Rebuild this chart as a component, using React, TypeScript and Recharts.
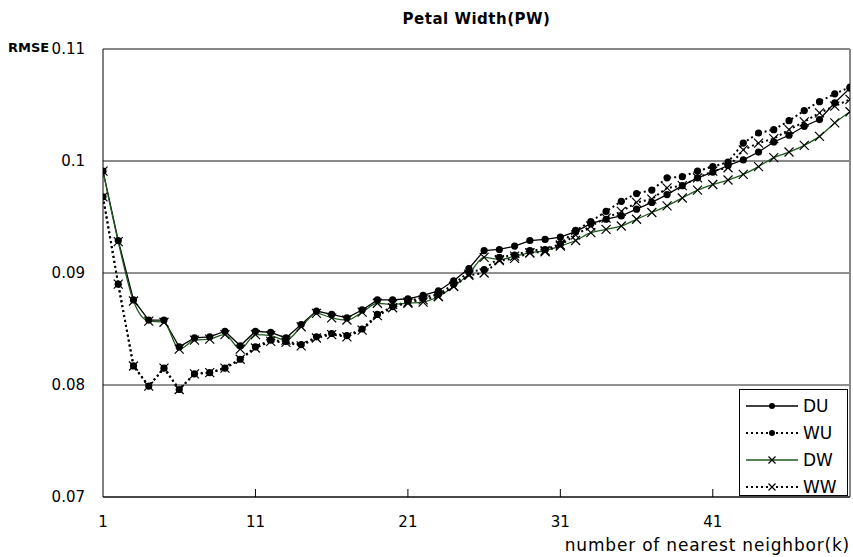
import { LineChart, Line, XAxis, YAxis, CartesianGrid, ReferenceLine } from "recharts";

const kValues = Array.from({ length: 50 }, (_, i) => i + 1);

const DU = [
  0.0991, 0.0929, 0.0876, 0.0858, 0.0858, 0.0834, 0.0842, 0.0843, 0.0848, 0.0835,
  0.0848, 0.0847, 0.0842, 0.0854, 0.0866, 0.0863, 0.086, 0.0867, 0.0876, 0.0876,
  0.0877, 0.088, 0.0884, 0.0893, 0.0904, 0.092, 0.0921, 0.0924, 0.0929, 0.093,
  0.0932, 0.0937, 0.0944, 0.0948, 0.0951, 0.0957, 0.0963, 0.097, 0.0978, 0.0985,
  0.099, 0.0996, 0.1001, 0.1008, 0.1017, 0.1023, 0.1031, 0.1037, 0.1052, 0.1065,
];
const WU = [
  0.0968, 0.089, 0.0817, 0.0799, 0.0815, 0.0796, 0.081, 0.0811, 0.0815, 0.0823,
  0.0834, 0.084, 0.0839, 0.0836, 0.0843, 0.0846, 0.0844, 0.085, 0.0863, 0.087,
  0.0875, 0.0878, 0.0881, 0.089, 0.0901, 0.0903, 0.0914, 0.0916, 0.092, 0.0921,
  0.0926, 0.0938, 0.0946, 0.0955, 0.0964, 0.0971, 0.0974, 0.0985, 0.0986, 0.0991,
  0.0995, 0.0999, 0.1016, 0.1025, 0.1028, 0.1036, 0.1045, 0.1053, 0.106, 0.1066,
];
const DW = [
  0.0991, 0.0928, 0.0875, 0.0857, 0.0856, 0.0832, 0.084, 0.0841, 0.0845, 0.0832,
  0.0845, 0.0844, 0.084, 0.0852, 0.0864, 0.086, 0.0858, 0.0865, 0.0873, 0.0872,
  0.0873, 0.0874, 0.0879, 0.0888, 0.0899, 0.0914, 0.0912, 0.0915, 0.0918, 0.092,
  0.0924, 0.0929, 0.0936, 0.0939, 0.0942, 0.0948, 0.0954, 0.096, 0.0967, 0.0974,
  0.0979, 0.0983, 0.0988, 0.0995, 0.1003, 0.1008, 0.1014, 0.1022, 0.1034, 0.1044,
];
const WW = [
  0.0968, 0.089, 0.0817, 0.0799, 0.0815, 0.0796, 0.081, 0.0811, 0.0815, 0.0823,
  0.0833, 0.0839, 0.0838, 0.0835, 0.0842, 0.0845, 0.0843, 0.0849, 0.0862, 0.0869,
  0.0874, 0.0876, 0.0879, 0.0888, 0.0898, 0.09, 0.0911, 0.0913, 0.0918, 0.0919,
  0.0925, 0.0934, 0.0942, 0.0949, 0.0955, 0.0963, 0.0966, 0.0976, 0.0978, 0.0985,
  0.0991, 0.0994, 0.101, 0.1016, 0.102, 0.1028, 0.1035, 0.1043, 0.1049, 0.1055,
];

const xTicks = [1, 11, 21, 31, 41];
const yTicks = [0.07, 0.08, 0.09, 0.1, 0.11];

const data = kValues.map((k, i) => ({ k, DU: DU[i], WU: WU[i], DW: DW[i], WW: WW[i] }));

const FONT = "'DejaVu Sans', sans-serif";
const GREEN = "#1f5a1f";

const CircleDot = (props: any) => {
  const { cx, cy } = props;
  if (cx == null || cy == null) return null;
  return <circle cx={cx} cy={cy} r={3.6} fill="#000" stroke="none" />;
};

const CrossDot = (props: any) => {
  const { cx, cy } = props;
  if (cx == null || cy == null) return null;
  const s = 4.5;
  return (
    <path
      d={`M${cx - s},${cy - s}L${cx + s},${cy + s}M${cx - s},${cy + s}L${cx + s},${cy - s}`}
      stroke="#000"
      strokeWidth={1.2}
      fill="none"
    />
  );
};

// ticks point up into the plot, labels sit below the axis
const XTick = (props: any) => {
  const { x, y, payload } = props;
  const axisY = y - 6;
  return (
    <g>
      {payload.value !== 1 && (
        <line x1={x} y1={axisY} x2={x} y2={axisY - 8} stroke="#000" strokeWidth={1} />
      )}
      <text x={x} y={axisY + 30} textAnchor="middle" fontSize={15} fontFamily={FONT} fill="#000">
        {payload.value}
      </text>
    </g>
  );
};

const legendItems = [
  { name: "DU", color: "#000", dash: undefined, mark: "dot" },
  { name: "WU", color: "#000", dash: "2 3", mark: "dot" },
  { name: "DW", color: GREEN, dash: undefined, mark: "x" },
  { name: "WW", color: "#000", dash: "2 3", mark: "x" },
];

const ChartLegend = () => (
  <div
    style={{
      position: "absolute",
      left: 739,
      top: 389,
      width: 109,
      height: 107,
      border: "1px solid #000",
      background: "#fff",
      boxSizing: "border-box",
    }}
  >
    {legendItems.map((it, i) => (
      <div
        key={it.name}
        style={{ position: "absolute", left: 4, top: 4 + i * 27, height: 24, display: "flex", alignItems: "center" }}
      >
        <svg width={56} height={20}>
          <line
            x1={2}
            y1={10}
            x2={54}
            y2={10}
            stroke={it.color}
            strokeWidth={it.dash ? 2 : 1.3}
            strokeDasharray={it.dash}
          />
          {it.mark === "dot" ? (
            <circle cx={28} cy={10} r={3} fill="#000" />
          ) : (
            <path d="M24.5,6.5L31.5,13.5M24.5,13.5L31.5,6.5" stroke="#000" strokeWidth={1.2} />
          )}
        </svg>
        <span style={{ fontFamily: FONT, fontSize: 17, marginLeft: 3, color: "#000" }}>{it.name}</span>
      </div>
    ))}
  </div>
);

export default function App() {
  return (
    <div style={{ position: "absolute", left: 0, top: 0, width: 853, height: 557, background: "#fff" }}>
      <div
        style={{
          position: "absolute",
          left: 0,
          width: 853,
          top: 10,
          textAlign: "center",
          fontFamily: FONT,
          fontWeight: "bold",
          fontSize: 15,
          letterSpacing: 0.5,
          paddingLeft: 100,
          boxSizing: "border-box",
        }}
      >
        Petal Width(PW)
      </div>
      <div style={{ position: "absolute", left: 8, top: 40, fontFamily: FONT, fontWeight: "bold", fontSize: 13 }}>
        RMSE
      </div>
      <LineChart width={853} height={557} data={data} margin={{ top: 49, right: 3, bottom: 0, left: 43 }}>
        <CartesianGrid horizontal vertical={false} stroke="#222" />
        <ReferenceLine y={0.11} stroke="#888" strokeWidth={2} />
        <ReferenceLine y={0.1} stroke="#888" strokeWidth={1.5} />
        <ReferenceLine x={50} stroke="#888" strokeWidth={2} />
        <XAxis
          type="number"
          dataKey="k"
          domain={[1, 50]}
          ticks={xTicks}
          allowDataOverflow
          tickLine={false}
          tickSize={0}
          tickMargin={6}
          height={60}
          stroke="#000"
          tick={<XTick />}
        />
        <YAxis
          domain={[0.07, 0.11]}
          ticks={yTicks}
          allowDataOverflow
          tickLine={false}
          tickSize={0}
          tickMargin={18}
          width={60}
          stroke="#000"
          tickFormatter={(v: number) => String(v)}
          tick={{ fill: "#000", fontSize: 15, fontFamily: FONT }}
        />
        <Line dataKey="DU" stroke="#000" strokeWidth={1.3} dot={<CircleDot />} isAnimationActive={false} />
        <Line
          dataKey="WU"
          stroke="#000"
          strokeWidth={2}
          strokeDasharray="2 3"
          dot={<CircleDot />}
          isAnimationActive={false}
        />
        <Line
          type="monotone"
          dataKey="DW"
          stroke={GREEN}
          strokeWidth={1.3}
          dot={<CrossDot />}
          isAnimationActive={false}
        />
        <Line
          dataKey="WW"
          stroke="#000"
          strokeWidth={2}
          strokeDasharray="2 3"
          dot={<CrossDot />}
          isAnimationActive={false}
        />
      </LineChart>
      <ChartLegend />
      <div
        style={{
          position: "absolute",
          right: 3,
          top: 535,
          fontFamily: FONT,
          fontSize: 17,
          letterSpacing: 0.8,
          whiteSpace: "nowrap",
        }}
      >
        number of nearest neighbor(k)
      </div>
    </div>
  );
}
